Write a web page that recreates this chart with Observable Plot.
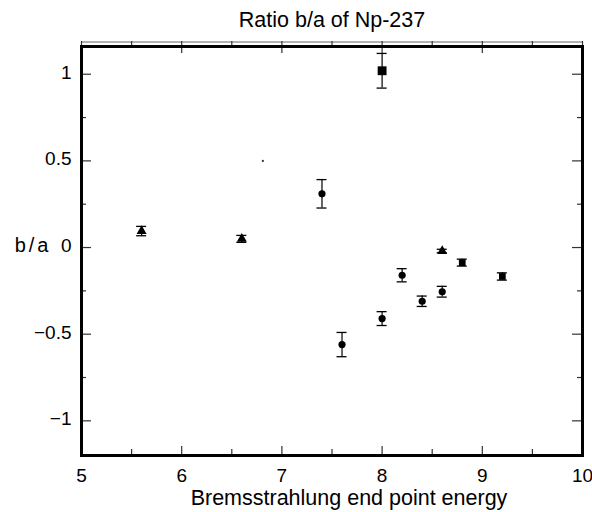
<!DOCTYPE html>
<html><head><meta charset="utf-8">
<script src="https://cdn.jsdelivr.net/npm/d3@7"></script>
<script src="https://cdn.jsdelivr.net/npm/@observablehq/plot@0.6"></script>
<style>body{margin:0;background:#fff;} svg{display:block}</style>
</head><body><div id="chart"></div>
<script>
const title = "Ratio b/a of Np-237";
const xLabel = "Bremsstrahlung end point energy";
const yLabel = "b/a";

const energy = [5.6, 6.6, 7.4, 8.0, 7.6, 8.0, 8.2, 8.4, 8.6, 8.6, 8.8, 9.2];
const ratio  = [0.095, 0.05, 0.31, 1.02, -0.56, -0.41, -0.16, -0.31, -0.255, -0.02, -0.087, -0.167];
const error  = [0.027, 0.02, 0.082, 0.10, 0.07, 0.04, 0.038, 0.03, 0.031, 0.01, 0.02, 0.021];
const marker = ["triangle","triangle","circle","square","circle","circle","circle","circle","circle","triangle","square","square"];

const speckX = [6.81], speckY = [0.5];

const xTicks = [5, 6, 7, 8, 9, 10];
const xHalfTicks = [5.5, 6.5, 7.5, 8.5, 9.5];
const yTicks = [-1, -0.5, 0, 0.5, 1];
const yQuarterTicks = [-0.75, -0.25, 0.25, 0.75];
const xDomain = [5, 10];
const yDomain = [-1.2, 1.16];

const data = energy.map((x, i) => ({x, y: ratio[i], e: error[i], m: marker[i]}));
const specks = speckX.map((x, i) => ({x, y: speckY[i]}));
const xAllHalf = [...xTicks, ...xHalfTicks];
const xInner = xTicks.slice(1, -1);
const yMin = yDomain[0], yMax = yDomain[1];
const xMin = xDomain[0], xMax = xDomain[1];
const tickColor = "#333";
const fmt = d => d < 0 ? "\u2212" + (-d) : String(d);

const chart = Plot.plot({
  width: 592, height: 512,
  marginTop: 46, marginBottom: 57, marginLeft: 81, marginRight: 10,
  style: {fontFamily: "'Liberation Sans', Arial, Helvetica, sans-serif", color: "black", background: "white"},
  x: {domain: xDomain, label: null, axis: null},
  y: {domain: yDomain, label: null, axis: null},
  marks: [
    // top thin double border with ticks
    Plot.ruleY([yMax], {dy: -4.5, stroke: "#666", strokeWidth: 1.2}),
    Plot.ruleX(xAllHalf, {x: d => d, y1: yMax, y2: yMax, insetTop: -5, stroke: tickColor, strokeWidth: 1.2}),
    Plot.ruleX(xInner, {x: d => d, y1: yMax, y2: yMax, insetBottom: -7, stroke: tickColor, strokeWidth: 1.2}),
    // bottom inward ticks
    Plot.ruleX(xInner, {x: d => d, y1: yMin, y2: yMin, insetTop: -9, stroke: tickColor, strokeWidth: 1.2}),
    Plot.ruleX(xHalfTicks, {x: d => d, y1: yMin, y2: yMin, insetTop: -6, stroke: tickColor, strokeWidth: 1.2}),
    // left / right inward ticks
    Plot.ruleY(yTicks, {y: d => d, x1: xMin, x2: xMin, insetRight: -10, stroke: tickColor, strokeWidth: 1.2}),
    Plot.ruleY(yQuarterTicks, {y: d => d, x1: xMin, x2: xMin, insetRight: -5, stroke: tickColor, strokeWidth: 1.2}),
    Plot.ruleY(yTicks, {y: d => d, x1: xMax, x2: xMax, insetLeft: -10, stroke: tickColor, strokeWidth: 1.2}),
    Plot.ruleY(yQuarterTicks, {y: d => d, x1: xMax, x2: xMax, insetLeft: -5, stroke: tickColor, strokeWidth: 1.2}),
    Plot.frame({stroke: "black", strokeWidth: 3}),
    // tick labels
    Plot.text(xTicks, {x: d => d, text: fmt, frameAnchor: "bottom", lineAnchor: "middle", dy: 20, fontSize: 19}),
    Plot.text(yTicks, {y: d => d, text: fmt, frameAnchor: "left", lineAnchor: "middle", textAnchor: "end", dx: -10, dy: -1.5, fontSize: 19}),
    // axis labels and title
    Plot.text([yLabel], {text: d => d, frameAnchor: "left", y: 0, lineAnchor: "middle", dx: -30, dy: -1.5, textAnchor: "end", fontSize: 20}),
    Plot.text([title], {text: d => d, frameAnchor: "top", lineAnchor: "middle", dy: -26, fontSize: 21.5}),
    Plot.text([xLabel], {text: d => d, frameAnchor: "bottom", lineAnchor: "middle", dy: 43, dx: 17, fontSize: 21.5}),
    // error bars
    Plot.ruleX(data, {x: "x", y1: d => d.y - d.e, y2: d => d.y + d.e, stroke: "black", strokeWidth: 1.2}),
    Plot.ruleY(data, {y: d => d.y + d.e, x1: "x", x2: "x", insetLeft: -5, insetRight: -5, stroke: "black", strokeWidth: 1.3}),
    Plot.ruleY(data, {y: d => d.y - d.e, x1: "x", x2: "x", insetLeft: -5, insetRight: -5, stroke: "black", strokeWidth: 1.3}),
    // markers
    Plot.dot(data.filter(d => d.m === "triangle"), {x: "x", y: "y", symbol: "triangle", r: 3.7, fill: "black"}),
    Plot.dot(data.filter(d => d.m === "circle"), {x: "x", y: "y", symbol: "circle", r: 3.6, fill: "black"}),
    Plot.dot(data.filter(d => d.m === "square" && d.e >= 0.05), {x: "x", y: "y", symbol: "square", r: 5, fill: "black"}),
    Plot.dot(data.filter(d => d.m === "square" && d.e < 0.05), {x: "x", y: "y", symbol: "square", r: 3.8, fill: "black"}),
    Plot.dot(specks, {x: "x", y: "y", r: 1.1, fill: "#333"})
  ]
});
d3.select(chart).selectAll("text").filter(function () { return this.textContent === yLabel; })
  .attr("letter-spacing", 3);
document.getElementById("chart").appendChild(chart);
</script>
</body></html>
